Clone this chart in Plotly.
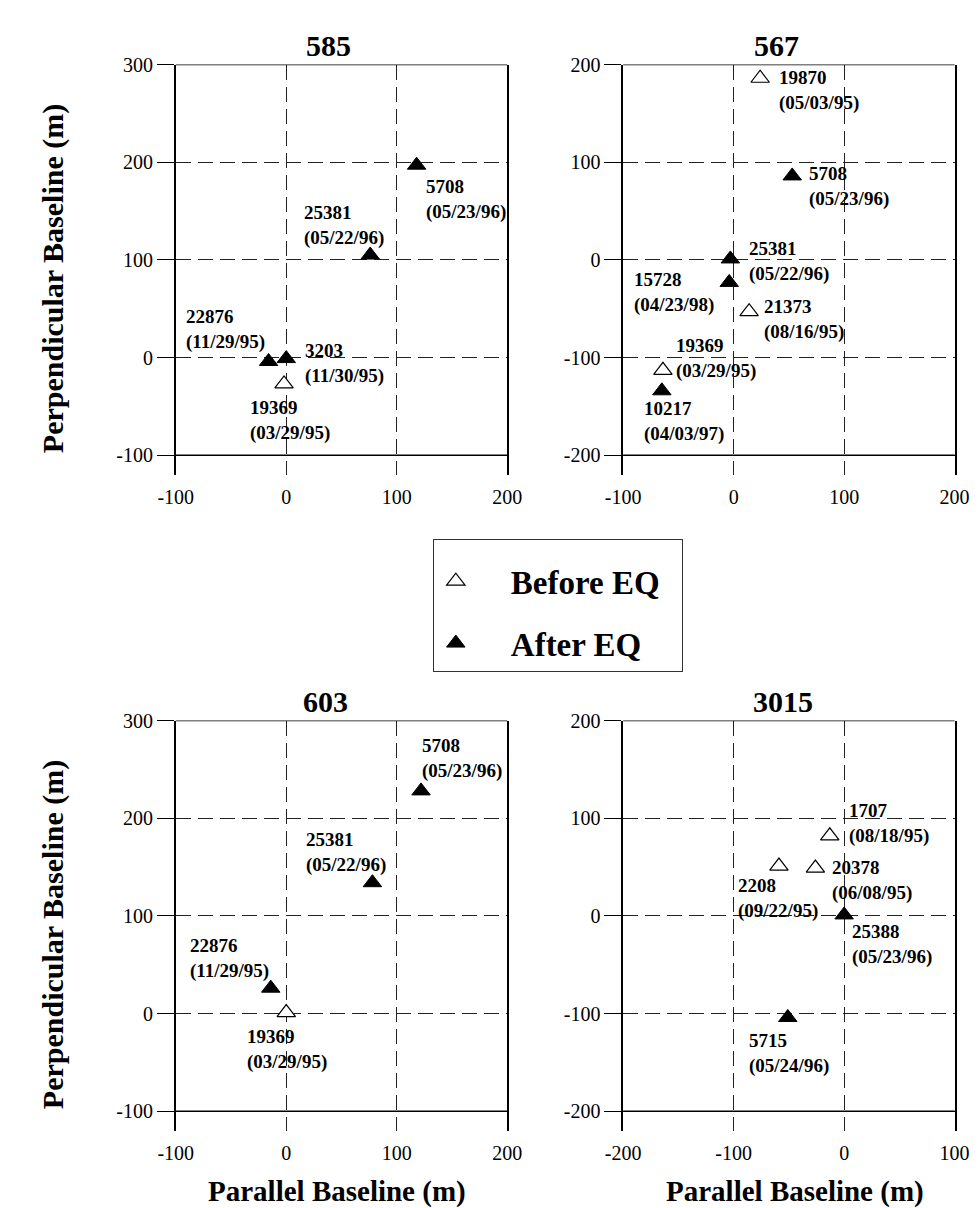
import plotly.graph_objects as go

# ---------------- data ----------------
# Panel 585
p585_orbit = ["5708", "25381", "22876", "3203", "19369"]
p585_date = ["05/23/96", "05/22/96", "11/29/95", "11/30/95", "03/29/95"]
p585_par = [118, 76, -16, 0, -2]
p585_perp = [197, 105, -4, -1, -27]
p585_phase = ["after", "after", "after", "after", "before"]

# Panel 567
p567_orbit = ["19870", "5708", "25381", "15728", "21373", "19369", "10217"]
p567_date = ["05/03/95", "05/23/96", "05/22/96", "04/23/98", "08/16/95", "03/29/95", "04/03/97"]
p567_par = [24, 53, -3, -4, 14, -64, -65]
p567_perp = [186, 86, 1, -23, -53, -113, -134]
p567_phase = ["before", "after", "after", "after", "before", "before", "after"]

# Panel 603
p603_orbit = ["5708", "25381", "22876", "19369"]
p603_date = ["05/23/96", "05/22/96", "11/29/95", "03/29/95"]
p603_par = [122, 78, -14, 0]
p603_perp = [228, 134, 26, 1]
p603_phase = ["after", "after", "after", "before"]

# Panel 3015
p3015_orbit = ["1707", "2208", "20378", "25388", "5715"]
p3015_date = ["08/18/95", "09/22/95", "06/08/95", "05/23/96", "05/24/96"]
p3015_par = [-13, -59, -26, 0, -51]
p3015_perp = [82, 51, 49, 1, -104]
p3015_phase = ["before", "before", "before", "after", "after"]

panel_titles = ["585", "567", "603", "3015"]
x_ticks = [[-100, 0, 100, 200], [-100, 0, 100, 200], [-100, 0, 100, 200], [-200, -100, 0, 100]]
y_ticks = [[-100, 0, 100, 200, 300], [-200, -100, 0, 100, 200],
           [-100, 0, 100, 200, 300], [-200, -100, 0, 100, 200]]
phase_names = {"before": "Before EQ", "after": "After EQ"}

# ---------------- style / layout ----------------
W, H = 979, 1208
SERIF = "Liberation Serif"
NB = "\u00a0"

# label offsets in screen pixels (xshift, yshift) for each point
label_shift = [
    [(7, -34), (-68, 30), (-85, 32), (17, -5), (-36, -37)],
    [(17, -12), (15, -11), (17, -3), (-97, -10), (13, -8), (11, 12), (-20, -31)],
    [(-1, 32), (-68, 30), (-83, 30), (-41, -37)],
    [(17, 12), (-43, -32), (15, -12), (6, -30), (-41, -36)],
]

x_dom = [(155 / W, 498 / W), (618 / W, 961 / W), (155 / W, 498 / W), (618 / W, 961 / W)]
y_dom = [(1 - 460 / H, 1 - 46 / H), (1 - 460 / H, 1 - 46 / H),
         (1 - 1122 / H, 1 - 708 / H), (1 - 1122 / H, 1 - 708 / H)]
title_pos = [(313, 27), (777, 27), (310, 689), (783, 689)]

panels = [
    (p585_orbit, p585_date, p585_par, p585_perp, p585_phase),
    (p567_orbit, p567_date, p567_par, p567_perp, p567_phase),
    (p603_orbit, p603_date, p603_par, p603_perp, p603_phase),
    (p3015_orbit, p3015_date, p3015_par, p3015_perp, p3015_phase),
]

marker_style = {
    "before": dict(symbol="triangle-up", size=16, color="white", line=dict(color="black", width=1.2)),
    "after": dict(symbol="triangle-up", size=16, color="black", line=dict(color="black", width=1)),
}

fig = go.Figure()
annotations = []
shapes = []
grid_dash = "15px,7px"

for i, (orb, dat, xs, ys, ph) in enumerate(panels):
    k = i + 1
    xa = "x" if k == 1 else f"x{k}"
    ya = "y" if k == 1 else f"y{k}"
    for phase in ["before", "after"]:
        idx = [j for j, p in enumerate(ph) if p == phase]
        fig.add_trace(go.Scatter(
            x=[xs[j] for j in idx], y=[ys[j] for j in idx],
            mode="markers", marker=marker_style[phase],
            name=NB * 4 + phase_names[phase] + NB * 2, legendgroup=phase,
            showlegend=(k == 1), xaxis=xa, yaxis=ya, hoverinfo="skip",
        ))
    for j in range(len(orb)):
        dx, dy = label_shift[i][j]
        annotations.append(dict(
            x=xs[j], y=ys[j], xref=xa, yref=ya, text=f"{orb[j]}<br>({dat[j]})",
            showarrow=False, xanchor="left", yanchor="middle", align="left",
            xshift=dx, yshift=dy,
            font=dict(family=SERIF, size=19, color="black", weight="bold"),
        ))
    xt, yt = x_ticks[i], y_ticks[i]
    yrange = [yt[0] - 20, yt[-1]]
    axx = dict(domain=list(x_dom[i]), range=[xt[0], xt[-1]], tickvals=xt,
               ticktext=[str(v) for v in xt], anchor=ya,
               showgrid=True, gridcolor="#222", gridwidth=1, griddash=grid_dash,
               zeroline=False, showline=False, ticks="", ticklabelstandoff=8,
               tickfont=dict(family=SERIF, size=20, color="black"), fixedrange=True)
    axy = dict(domain=list(y_dom[i]), range=yrange, tickvals=yt,
               ticktext=[str(v) for v in yt], anchor=xa,
               showgrid=True, gridcolor="#222", gridwidth=1, griddash=grid_dash,
               zeroline=False, showline=True, mirror=True, linecolor="black", linewidth=1.5,
               ticks="outside", ticklen=17, tickwidth=1, tickcolor="black",
               tickfont=dict(family=SERIF, size=20, color="black"), fixedrange=True)
    fig.update_layout({("xaxis" if k == 1 else f"xaxis{k}"): axx,
                       ("yaxis" if k == 1 else f"yaxis{k}"): axy})
    for yv in (yt[0], yt[-1]):
        shapes.append(dict(type="line", xref=f"{xa} domain", x0=0, x1=1, yref=ya, y0=yv, y1=yv,
                           line=dict(color="black", width=1.5)))
    tx, ty = title_pos[i]
    annotations.append(dict(x=tx / W, y=1 - ty / H, xref="paper", yref="paper",
                            text=panel_titles[i], showarrow=False, xanchor="center", yanchor="middle",
                            font=dict(family=SERIF, size=30, color="black", weight="bold")))

# axis titles
for cy in (262, 924):
    annotations.append(dict(x=27.5 / W, y=1 - cy / H, xref="paper", yref="paper",
                            text="Perpendicular Baseline (m)", textangle=-90, showarrow=False,
                            xanchor="center", yanchor="middle",
                            font=dict(family=SERIF, size=30, color="black", weight="bold")))
for cx in (322, 796):
    annotations.append(dict(x=cx / W, y=1 - 1183 / H, xref="paper", yref="paper",
                            text="Parallel Baseline (m)", showarrow=False,
                            xanchor="center", yanchor="middle",
                            font=dict(family=SERIF, size=29, color="black", weight="bold")))

fig.update_layout(
    width=W, height=H, margin=dict(l=0, r=0, t=0, b=0),
    paper_bgcolor="white", plot_bgcolor="white",
    annotations=annotations, shapes=shapes,
    legend=dict(x=421 / W, y=1 - 525 / H, xanchor="left", yanchor="top",
                bordercolor="#333", borderwidth=1, bgcolor="white",
                font=dict(family=SERIF, size=33, color="black", weight="bold"),
                itemwidth=34, tracegroupgap=16, traceorder="grouped",
                title=dict(text=NB, font=dict(size=10))),
)

fig.write_html("out.html")
